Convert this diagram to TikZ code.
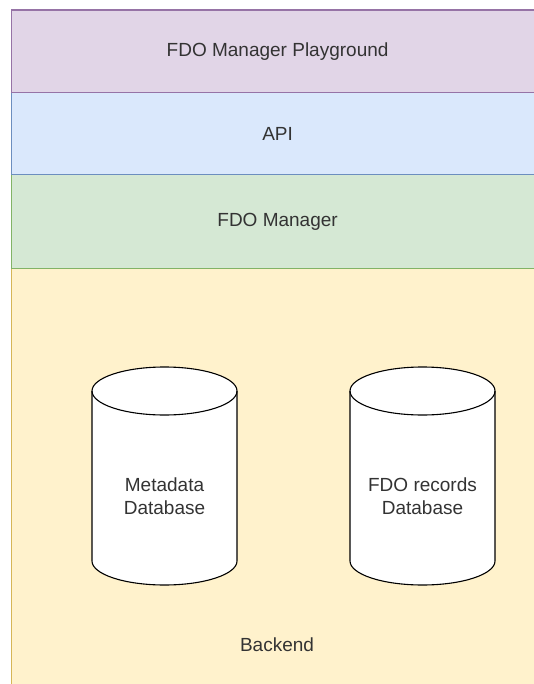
\documentclass[tikz,border=0pt]{standalone}
\usepackage{fontspec}
\setmainfont{Liberation Sans}
\definecolor{purpleF}{HTML}{E1D5E7}\definecolor{purpleS}{HTML}{9673A6}
\definecolor{blueF}{HTML}{DAE8FC}\definecolor{blueS}{HTML}{6C8EBF}
\definecolor{greenF}{HTML}{D5E8D4}\definecolor{greenS}{HTML}{82B366}
\definecolor{yellowF}{HTML}{FFF2CC}\definecolor{yellowS}{HTML}{D6B656}
\definecolor{txt}{HTML}{333333}
\tikzset{
  band/.style={rectangle,anchor=north west,inner sep=0pt,minimum width=532pt,line width=1.2pt,text=txt,font=\fontsize{19}{23}\selectfont},
  lbl/.style={inner sep=0pt,text=txt,font=\fontsize{19}{23}\selectfont,align=center},
  cyl/.style={fill=white,draw=black,line width=1.1pt}
}
\begin{document}
\begin{tikzpicture}[x=1pt,y=1pt]
\useasboundingbox (0,0) rectangle (534,-684);
\fill[white] (0,0) rectangle (534,-684);
\begin{scope}
\clip (0,0) rectangle (534,-684);
\node[band,fill=yellowF,draw=yellowS,minimum height=440pt] (backend) at (11,-268) {};
\node[band,fill=greenF,draw=greenS,minimum height=94pt] (mgr) at (11,-174) {FDO Manager};
\node[band,fill=blueF,draw=blueS,minimum height=82pt] (api) at (11,-92) {API};
\node[band,fill=purpleF,draw=purpleS,minimum height=82.5pt] (play) at (11,-9.5) {FDO Manager Playground};
\end{scope}
% left cylinder
\filldraw[cyl] (92,-391) -- (92,-561) arc[start angle=180,end angle=360,x radius=72.5,y radius=24] -- (237,-391) arc[start angle=0,end angle=180,x radius=72.5,y radius=24] -- cycle;
\draw[cyl,fill=none] (92,-391) arc[start angle=180,end angle=360,x radius=72.5,y radius=24];
% right cylinder
\filldraw[cyl] (350,-391) -- (350,-561) arc[start angle=180,end angle=360,x radius=72.5,y radius=24] -- (495,-391) arc[start angle=0,end angle=180,x radius=72.5,y radius=24] -- cycle;
\draw[cyl,fill=none] (350,-391) arc[start angle=180,end angle=360,x radius=72.5,y radius=24];
\node[lbl] (meta) at (164.5,-496) {Metadata\\Database};
\node[lbl] (recs) at (422.5,-496) {FDO records\\Database};
\node[lbl] (backlbl) at (277,-645) {Backend};
\end{tikzpicture}
\end{document}
